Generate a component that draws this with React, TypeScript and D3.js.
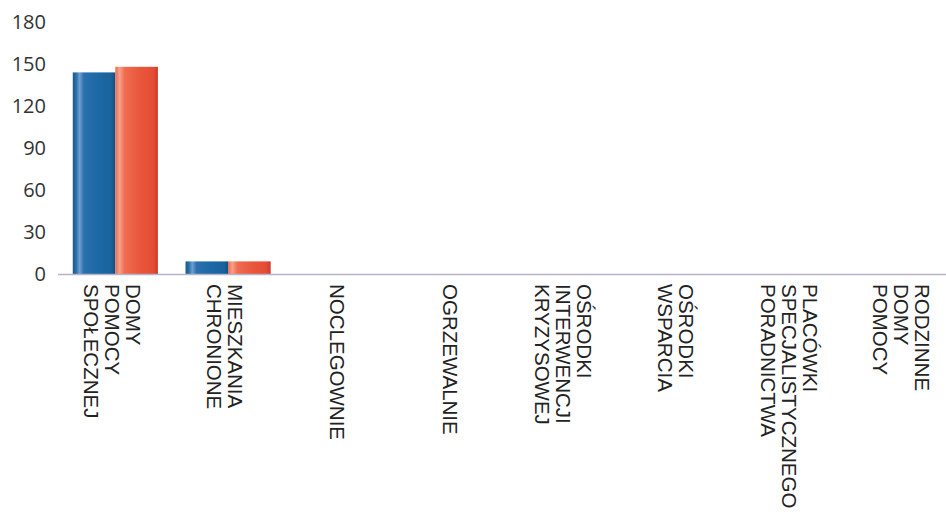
import React from "react";
import * as d3 from "d3";

const categories: string[][] = [
  ["DOMY", "POMOCY", "SPOŁECZNEJ"],
  ["MIESZKANIA", "CHRONIONE"],
  ["NOCLEGOWNIE"],
  ["OGRZEWALNIE"],
  ["OŚRODKI", "INTERWENCJI", "KRYZYSOWEJ"],
  ["OŚRODKI", "WSPARCIA"],
  ["PLACÓWKI", "SPECJALISTYCZNEGO", "PORADNICTWA"],
  ["RODZINNE", "DOMY", "POMOCY"],
];
const seriesA: number[] = [144, 9, 0, 0, 0, 0, 0, 0];
const seriesB: number[] = [148, 9, 0, 0, 0, 0, 0, 0];
const yTicks: number[] = [0, 30, 60, 90, 120, 150, 180];

const W = 946;
const H = 515;

export default function App() {
  const x = d3
    .scaleBand<number>()
    .domain(categories.map((_, i) => i))
    .range([59, 961])
    .paddingInner(0.245)
    .paddingOuter(0.122);
  const y = d3.scaleLinear().domain([0, 180]).range([274, 22]);
  const sub = d3
    .scaleBand<string>()
    .domain(["a", "b"])
    .range([0, x.bandwidth()]);

  const lineH = 21;

  return (
    <svg
      width={W}
      height={H}
      style={{ position: "absolute", left: 0, top: 0, background: "#fff" }}
    >
      <defs>
        <linearGradient id="gBlue" x1="0" x2="1" y1="0" y2="0">
          <stop offset="0" stopColor="#175a8c" />
          <stop offset="0.08" stopColor="#2a6ea8" />
          <stop offset="0.16" stopColor="#6e9fcf" />
          <stop offset="0.26" stopColor="#2a70ad" />
          <stop offset="0.6" stopColor="#1a69a6" />
          <stop offset="0.9" stopColor="#1a629c" />
          <stop offset="1" stopColor="#134f80" />
        </linearGradient>
        <linearGradient id="gRed" x1="0" x2="1" y1="0" y2="0">
          <stop offset="0" stopColor="#ec6a50" />
          <stop offset="0.1" stopColor="#f7a08a" />
          <stop offset="0.22" stopColor="#ef6c50" />
          <stop offset="0.6" stopColor="#e8563a" />
          <stop offset="0.9" stopColor="#e44c34" />
          <stop offset="1" stopColor="#cc3a2a" />
        </linearGradient>
      </defs>
      {yTicks.map((t) => (
        <text
          key={t}
          x={46}
          y={y(t)}
          dy="0.35em"
          textAnchor="end"
          fontFamily="'Open Sans', sans-serif"
          fontSize={20}
          fill="#333"
        >
          {t}
        </text>
      ))}
      {categories.map((_, i) => {
        const x0 = x(i) as number;
        return (
          <g key={i}>
            {seriesA[i] > 0 && (
              <rect
                x={x0 + (sub("a") as number)}
                y={y(seriesA[i])}
                width={sub.bandwidth()}
                height={y(0) - y(seriesA[i])}
                fill="url(#gBlue)"
              />
            )}
            {seriesB[i] > 0 && (
              <rect
                x={x0 + (sub("b") as number)}
                y={y(seriesB[i])}
                width={sub.bandwidth()}
                height={y(0) - y(seriesB[i])}
                fill="url(#gRed)"
              />
            )}
          </g>
        );
      })}
      <line x1={58} x2={W} y1={y(0) + 0.5} y2={y(0) + 0.5} stroke="#b4b4cc" strokeWidth={1.5} />
      {categories.map((lines, i) => {
        const cx = (x(i) as number) + x.bandwidth() / 2 - 3;
        const n = lines.length;
        return (
          <text
            key={i}
            transform={`translate(${cx},284) rotate(90)`}
            fontFamily="'Liberation Sans', Arial, sans-serif"
            fontSize={20.5}
            fill="#222"
          >
            {lines.map((l, j) => (
              <tspan key={j} x={0} y={(j - (n - 1) / 2) * lineH} dy="0.36em">
                {l}
              </tspan>
            ))}
          </text>
        );
      })}
    </svg>
  );
}
